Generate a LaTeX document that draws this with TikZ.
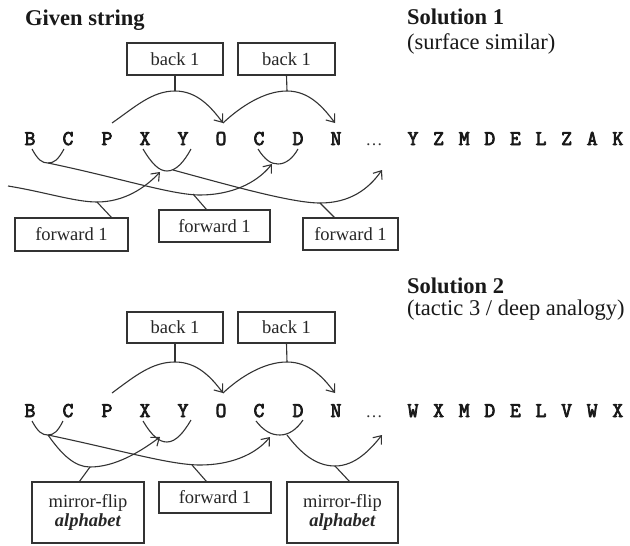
\documentclass[tikz,border=0pt]{standalone}
\usepackage{fontspec}
\setmainfont{Liberation Serif}
\newfontfamily\monob[FakeBold=3.5]{Latin Modern Mono}
\usetikzlibrary{arrows.meta,calc}
\begin{document}
\begin{tikzpicture}[x=1pt,y=-1pt,
  ln/.style={draw=black!80, line width=1.1pt},
  arr/.style={ln, -{Straight Barb[length=7pt,width=11pt,line width=1.1pt]}},
  lbox/.style={draw=black!80, line width=1.1pt, inner sep=0pt, align=center,
    font=\fontsize{18.5}{20}\selectfont, text=black!85},
  let/.style={font=\fontsize{21}{21}\selectfont\monob, anchor=base, inner sep=0pt, text=black!90},
  dots/.style={font=\fontsize{17}{17}\selectfont, anchor=base, inner sep=0pt, text=black!80},
  ttl/.style={font=\fontsize{22.5}{24}\selectfont\bfseries, anchor=base west, inner sep=0pt, text=black!90},
  sub/.style={font=\fontsize{22.5}{24}\selectfont, anchor=base west, inner sep=0pt, text=black!90}]
\useasboundingbox[fill=white] (0,0) rectangle (630,546);

% ---------- titles ----------
\node[ttl] (given) at (25,25) {Given string};
\node[ttl] (sol1) at (407,24) {Solution 1};
\node[sub] (sol1s) at (407,49) {(surface similar)};
\node[ttl] (sol2) at (407,293) {Solution 2};
\node[sub] (sol2s) at (407,315) {(tactic 3 / deep analogy)};

% ---------- top string ----------
\node[let] (tB) at (30,145) {B};
\node[let] (tC) at (68,145) {C};
\node[let] (tP) at (107,145) {P};
\node[let] (tX) at (145,145) {X};
\node[let] (tY) at (183,145) {Y};
\node[let] (tO) at (221,145) {O};
\node[let] (tC2) at (259,145) {C};
\node[let] (tD) at (298,145) {D};
\node[let] (tN) at (336,145) {N};
\node[dots] (tdots) at (374,145) {…};
\foreach \ch [count=\i from 0] in {Y,Z,M,D,E,L,Z,A,K}
  \node[let] (ts\i) at ({413+25.6*\i},145) {\ch};

% top boxes
\node[lbox, minimum width=96, minimum height=32] (tb1) at (175,59) {back 1};
\node[lbox, minimum width=97, minimum height=32] (tb2) at (286.5,59) {back 1};
\node[lbox, minimum width=113, minimum height=33] (tf1) at (71.5,234.5) {forward 1};
\node[lbox, minimum width=111, minimum height=32] (tf2) at (214.5,226) {forward 1};
\node[lbox, minimum width=95, minimum height=32] (tf3) at (350.5,234) {forward 1};

% top coordinates
\coordinate (tPs) at (112,123);
\coordinate (tA1) at (175,91);
\coordinate (tOt) at (223,123);
\coordinate (tA2) at (287,91);
\coordinate (tNt) at (335,123);
\coordinate (tBs) at (32,149);
\coordinate (tCs) at (64,149);
\coordinate (tBC) at (48,163);
\coordinate (tXs) at (143,149);
\coordinate (tYs) at (191,149);
\coordinate (tXY) at (167,171);
\coordinate (tXYr) at (173,170);
\coordinate (tCs2) at (258,149);
\coordinate (tDs) at (298,149);
\coordinate (tCD) at (278,164);
\coordinate (tLeft) at (8,186);
\coordinate (tLowA) at (97,202);
\coordinate (tLowB) at (200,195);
\coordinate (tLowC) at (320,203);
\coordinate (tConB) at (193,194);
\coordinate (tArrA) at (160,172);
\coordinate (tArrB) at (272,164);
\coordinate (tArrC) at (382,170);

% back arcs (top)
\draw[ln] (tb1.south) -- (tA1);
\draw[ln] (tb2.south) -- (tA2);
\draw[arr] (tPs) .. controls (135,107) and (152,91) .. (tA1) .. controls (197,91) and (211,107) .. (tOt);
\draw[arr] (tOt) .. controls (240,107) and (264,91) .. (tA2) .. controls (309,91) and (323,107) .. (tNt);

% junctions (top)
\draw[ln] (tBs) .. controls (38,160) and (42,163) .. (tBC) .. controls (54,163) and (58,160) .. (tCs);
\draw[ln] (tXs) .. controls (152,164) and (159,171) .. (tXY) .. controls (176,171) and (184,162) .. (tYs);
\draw[ln] (tCs2) .. controls (265,160) and (271,164) .. (tCD) .. controls (286,164) and (293,158) .. (tDs);

% forward lines (top)
\draw[arr] (tLeft) .. controls (45,192) and (75,202) .. (tLowA) .. controls (124,202) and (145,188) .. (tArrA);
\draw[arr] (tBC) .. controls (120,178) and (172,195) .. (tLowB) .. controls (230,195) and (256,184) .. (tArrB);
\draw[arr] (tXYr) .. controls (232,186) and (292,203) .. (tLowC) .. controls (349,203) and (368,190) .. (tArrC);
\draw[ln] (tLowA) -- ($(tf1.north west)+(97,0)$);
\draw[ln] (tConB) -- ($(tf2.north west)+(48,0)$);
\draw[ln] (tLowC) -- ($(tf3.north west)+(32,0)$);

% ---------- bottom string ----------
\node[let] (bB) at (30,417) {B};
\node[let] (bC) at (68,417) {C};
\node[let] (bP) at (107,417) {P};
\node[let] (bX) at (145,417) {X};
\node[let] (bY) at (183,417) {Y};
\node[let] (bO) at (221,417) {O};
\node[let] (bC2) at (259,417) {C};
\node[let] (bD) at (298,417) {D};
\node[let] (bN) at (336,417) {N};
\node[dots] (bdots) at (374,417) {…};
\foreach \ch [count=\i from 0] in {W,X,M,D,E,L,V,W,X}
  \node[let] (bs\i) at ({413+25.6*\i},417) {\ch};

% bottom boxes
\node[lbox, minimum width=96, minimum height=31] (bb1) at (175,327.5) {back 1};
\node[lbox, minimum width=97, minimum height=31] (bb2) at (286.5,327.5) {back 1};
\node[lbox, minimum width=112, minimum height=61] (bm1) at (88,512.5) {mirror-flip\\[-1pt]\textbf{\textit{alphabet}}};
\node[lbox, minimum width=112, minimum height=31] (bf) at (215,497.5) {forward 1};
\node[lbox, minimum width=111, minimum height=61] (bm2) at (342.5,512.5) {mirror-flip\\[-1pt]\textbf{\textit{alphabet}}};

% bottom coordinates
\coordinate (bPs) at (112,393);
\coordinate (bA1) at (175,362);
\coordinate (bOt) at (223,393);
\coordinate (bA2) at (287,362);
\coordinate (bNt) at (335,393);
\coordinate (bBs) at (32,421);
\coordinate (bCs) at (63,421);
\coordinate (bBC) at (48,435);
\coordinate (bXs) at (143,421);
\coordinate (bYs) at (191,420);
\coordinate (bXY) at (167,442);
\coordinate (bCs2) at (256,421);
\coordinate (bDs) at (303,420);
\coordinate (bCD) at (280,435);
\coordinate (bCDr) at (287,435);
\coordinate (bLowM1) at (90,467);
\coordinate (bLowF) at (200,465);
\coordinate (bConF) at (192,465);
\coordinate (bLowM2) at (335,466);
\coordinate (bArrM1) at (160,437);
\coordinate (bArrF) at (270,437);
\coordinate (bArrM2) at (382,435);

% back arcs (bottom)
\draw[ln] (bb1.south) -- (bA1);
\draw[ln] (bb2.south) -- (bA2);
\draw[arr] (bPs) .. controls (135,376) and (152,362) .. (bA1) .. controls (197,362) and (211,377) .. (bOt);
\draw[arr] (bOt) .. controls (240,377) and (264,362) .. (bA2) .. controls (309,362) and (323,377) .. (bNt);

% junctions (bottom)
\draw[ln] (bBs) .. controls (38,432) and (42,435) .. (bBC) .. controls (54,435) and (58,431) .. (bCs);
\draw[ln] (bXs) .. controls (152,436) and (159,442) .. (bXY) .. controls (176,442) and (184,432) .. (bYs);
\draw[ln] (bCs2) .. controls (264,431) and (271,435) .. (bCD) .. controls (289,435) and (297,429) .. (bDs);

% mirror / forward lines (bottom)
\draw[arr] (bBC) .. controls (62,455) and (75,467) .. (bLowM1) .. controls (115,467) and (140,452) .. (bArrM1);
\draw[arr] (bBC) .. controls (120,450) and (170,465) .. (bLowF) .. controls (230,465) and (255,455) .. (bArrF);
\draw[arr] (bCDr) .. controls (300,452) and (315,466) .. (bLowM2) .. controls (355,466) and (370,450) .. (bArrM2);
\draw[ln] (bLowM1) -- ($(bm1.north west)+(48,0)$);
\draw[ln] (bConF) -- ($(bf.north west)+(48,0)$);
\draw[ln] (bLowM2) -- ($(bm2.north west)+(63,0)$);
\end{tikzpicture}
\end{document}
